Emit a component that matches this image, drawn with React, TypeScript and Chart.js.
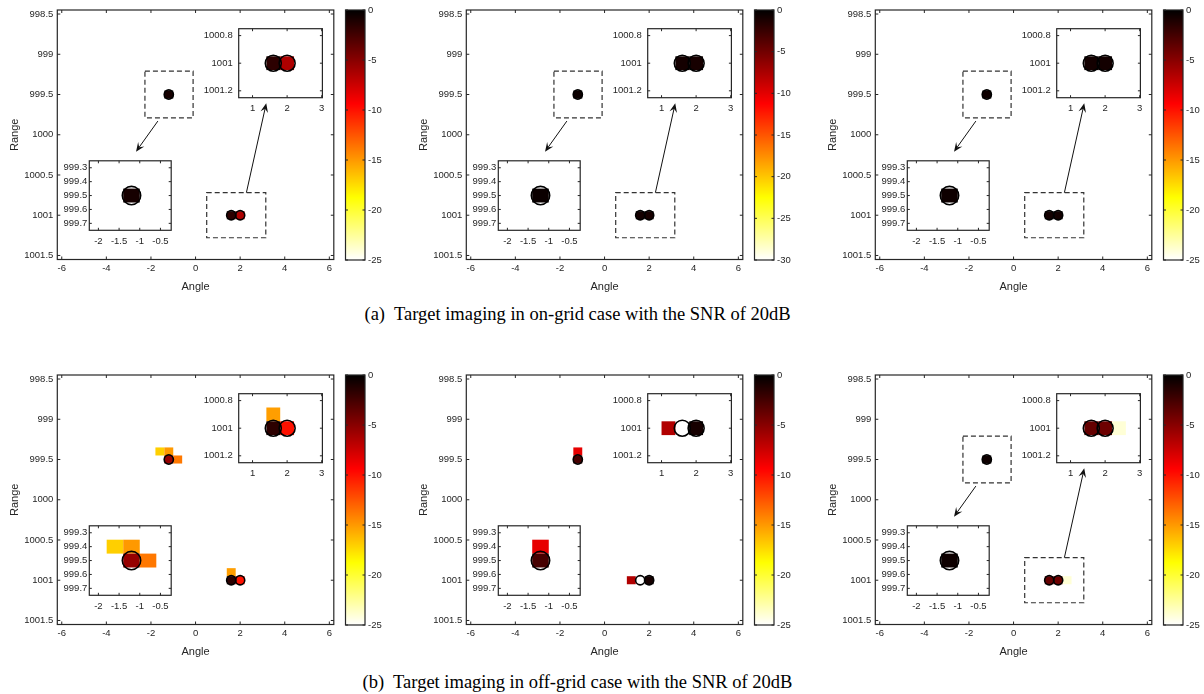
import React, { useEffect, useRef } from "react";
import { Chart, registerables } from "chart.js";
Chart.register(...registerables);

// ---------- data ----------
const targetAngle = [-1.2, 1.6, 2.0];
const targetRange = [999.5, 1001, 1001];

const a1Angle = [-1.2, 1.6, 2.0];
const a1Range = [999.5, 1001, 1001];
const a1Db = [-0.8, -1.6, -6.4];

const a2Angle = [-1.2, 1.6, 2.0];
const a2Range = [999.5, 1001, 1001];
const a2Db = [-0.5, -0.9, -1.0];

const a3Angle = [-1.2, 1.6, 2.0];
const a3Range = [999.5, 1001, 1001];
const a3Db = [-0.5, -0.7, -0.7];

const b1Angle = [-1.6, -1.2, -1.2, -0.8, 1.6, 1.6, 2.0];
const b1Range = [999.4, 999.4, 999.5, 999.5, 1000.9, 1001, 1001];
const b1Db = [-17, -15, -5.5, -13.8, -15.2, -1.6, -10];

const b2Angle = [-1.2, -1.2, 1.2, 2.0];
const b2Range = [999.4, 999.5, 1001, 1001];
const b2Db = [-8.5, -2.6, -6.5, -0.8];

const b3Angle = [-1.2, 1.6, 2.0, 2.4];
const b3Range = [999.5, 1001, 1001, 1001];
const b3Db = [-0.5, -3.7, -4.0, -24];

const cellAngleStep = 0.4;
const cellRangeStep = 0.1;

const colorbarMin = [-25, -30, -25, -25, -25, -25];
const colorbarTicks25 = [0, -5, -10, -15, -20, -25];
const colorbarTicks30 = [0, -5, -10, -15, -20, -25, -30];
const hasZoomBoxes = [true, true, true, false, false, true];

const mainAngleTicks = [-6, -4, -2, 0, 2, 4, 6];
const mainRangeTicks = [998.5, 999, 999.5, 1000, 1000.5, 1001, 1001.5];
const nearAngleTicks = [-2, -1.5, -1, -0.5];
const nearRangeTicks = [999.3, 999.4, 999.5, 999.6, 999.7];
const farAngleTicks = [1, 2, 3];
const farRangeTicks = [1000.8, 1001, 1001.2];

const captions = [
  "(a)  Target imaging in on-grid case with the SNR of 20dB",
  "(b)  Target imaging in off-grid case with the SNR of 20dB",
];

const panelAngles = [a1Angle, a2Angle, a3Angle, b1Angle, b2Angle, b3Angle];
const panelRanges = [a1Range, a2Range, a3Range, b1Range, b2Range, b3Range];
const panelDb = [a1Db, a2Db, a3Db, b1Db, b2Db, b3Db];

// zoom-box annotations in main-axes data units
const zoomBoxAngle = [[-2.27, -0.11], [0.5, 3.15]];
const zoomBoxRange = [[999.21, 999.79], [1000.72, 1001.28]];
const arrowFromAngle = [-1.69, 2.28];
const arrowFromRange = [999.83, 1000.72];
const arrowToAngle = [-2.67, 3.17];
const arrowToRange = [1000.21, 999.61];

// ---------- styling ----------
const AX = "#262626";
const FONT = '"Liberation Sans", Arial, Helvetica, sans-serif';
const TICK_FONT = { family: FONT, size: 9.5 };

function hot(t: number): string {
  t = Math.min(1, Math.max(0, t));
  const r = Math.min(1, t / 0.375);
  const g = Math.min(1, Math.max(0, (t - 0.375) / 0.375));
  const b = Math.min(1, Math.max(0, (t - 0.75) / 0.25));
  return `rgb(${Math.round(r * 255)},${Math.round(g * 255)},${Math.round(b * 255)})`;
}

function fmt(v: number): string {
  return String(parseFloat(Number(v).toFixed(4)));
}

function fixedTicks(list: number[]) {
  return (scale: any) => {
    scale.ticks = list.map((value) => ({ value }));
  };
}

type Rect = { x: number; y: number; w: number; h: number };
type Area = { l: number; t: number; r: number; b: number };

function cellsPlugin(angles: number[], ranges: number[], dbs: number[], cmin: number) {
  return {
    id: "cells",
    beforeDatasetsDraw(chart: any) {
      const { ctx, chartArea: a, scales } = chart;
      const xs = scales.x, ys = scales.y;
      ctx.save();
      ctx.beginPath();
      ctx.rect(a.left, a.top, a.right - a.left, a.bottom - a.top);
      ctx.clip();
      angles.forEach((ang, i) => {
        const x0 = xs.getPixelForValue(ang - cellAngleStep / 2);
        const x1 = xs.getPixelForValue(ang + cellAngleStep / 2);
        const y0 = ys.getPixelForValue(ranges[i] - cellRangeStep / 2);
        const y1 = ys.getPixelForValue(ranges[i] + cellRangeStep / 2);
        ctx.fillStyle = hot(dbs[i] / cmin);
        ctx.fillRect(Math.min(x0, x1), Math.min(y0, y1), Math.abs(x1 - x0), Math.abs(y1 - y0));
      });
      ctx.restore();
    },
  };
}

const whitePlugin = {
  id: "white",
  beforeDraw(chart: any) {
    const { ctx, chartArea: a } = chart;
    ctx.save();
    ctx.fillStyle = "#fff";
    ctx.fillRect(a.left, a.top, a.right - a.left, a.bottom - a.top);
    ctx.restore();
  },
};

function framePlugin(tickLen: number, useX: boolean) {
  return {
    id: "frame",
    afterDatasetsDraw(chart: any) {
      const { ctx, chartArea: a, scales } = chart;
      ctx.save();
      ctx.strokeStyle = AX;
      ctx.lineWidth = 1;
      ctx.beginPath();
      if (useX) {
        for (const t of scales.x.ticks) {
          const px = scales.x.getPixelForValue(t.value);
          ctx.moveTo(px, a.bottom);
          ctx.lineTo(px, a.bottom - tickLen);
          ctx.moveTo(px, a.top);
          ctx.lineTo(px, a.top + tickLen);
        }
      }
      for (const t of scales.y.ticks) {
        const py = scales.y.getPixelForValue(t.value);
        ctx.moveTo(a.left, py);
        ctx.lineTo(a.left + tickLen, py);
        ctx.moveTo(a.right, py);
        ctx.lineTo(a.right - tickLen, py);
      }
      ctx.stroke();
      ctx.lineWidth = 1.2;
      ctx.strokeRect(a.left, a.top, a.right - a.left, a.bottom - a.top);
      ctx.restore();
    },
  };
}

function drawArrow(ctx: CanvasRenderingContext2D, x0: number, y0: number, x1: number, y1: number) {
  const ang = Math.atan2(y1 - y0, x1 - x0);
  const L = 9, W = 3.8;
  const c = Math.cos(ang), s = Math.sin(ang);
  ctx.beginPath();
  ctx.moveTo(x0, y0);
  ctx.lineTo(x1 - c * L * 0.6, y1 - s * L * 0.6);
  ctx.stroke();
  const bx = x1 - c * L, by = y1 - s * L;
  const nx = -s, ny = c;
  ctx.beginPath();
  ctx.moveTo(x1, y1);
  ctx.lineTo(bx + nx * W, by + ny * W);
  ctx.lineTo(x1 - c * L * 0.6, y1 - s * L * 0.6);
  ctx.lineTo(bx - nx * W, by - ny * W);
  ctx.closePath();
  ctx.fill();
}

const zoomPlugin = {
  id: "zoomboxes",
  afterDatasetsDraw(chart: any) {
    const { ctx, scales } = chart;
    const xs = scales.x, ys = scales.y;
    ctx.save();
    ctx.strokeStyle = "#333";
    ctx.fillStyle = "#111";
    ctx.lineWidth = 1.2;
    ctx.setLineDash([5, 3]);
    zoomBoxAngle.forEach((ab, i) => {
      const x0 = xs.getPixelForValue(ab[0]), x1 = xs.getPixelForValue(ab[1]);
      const y0 = ys.getPixelForValue(zoomBoxRange[i][0]), y1 = ys.getPixelForValue(zoomBoxRange[i][1]);
      ctx.strokeRect(Math.min(x0, x1), Math.min(y0, y1), Math.abs(x1 - x0), Math.abs(y1 - y0));
    });
    ctx.setLineDash([]);
    ctx.strokeStyle = "#111";
    ctx.lineWidth = 1;
    arrowFromAngle.forEach((fa, i) => {
      drawArrow(
        ctx,
        xs.getPixelForValue(fa),
        ys.getPixelForValue(arrowFromRange[i]),
        xs.getPixelForValue(arrowToAngle[i]),
        ys.getPixelForValue(arrowToRange[i])
      );
    });
    ctx.restore();
  },
};

function baseOptions(rect: Rect, area: Area) {
  return {
    animation: false,
    responsive: false,
    events: [],
    layout: {
      padding: { left: 0, top: area.t - rect.y, right: rect.x + rect.w - area.r, bottom: 0 },
    },
    plugins: { legend: { display: false }, tooltip: { enabled: false } },
  };
}

function axisCommon(ticks: number[], padding: number) {
  return {
    type: "linear",
    afterBuildTicks: fixedTicks(ticks),
    grid: { display: false, drawTicks: false },
    border: { display: false },
    ticks: {
      autoSkip: false,
      maxRotation: 0,
      padding,
      color: AX,
      font: TICK_FONT,
      callback: (v: any) => fmt(Number(v)),
    },
  };
}

function makeXYChart(
  canvas: HTMLCanvasElement,
  rect: Rect,
  area: Area,
  xr: number[],
  yr: number[],
  xTicks: number[],
  yTicks: number[],
  radius: number,
  idx: number,
  isMain: boolean,
  yPad: number,
  xPad: number
) {
  const pts = targetAngle
    .map((x, i) => ({ x, y: targetRange[i] }))
    .filter((p) => p.x >= xr[0] && p.x <= xr[1] && p.y >= yr[0] && p.y <= yr[1]);
  const plugins: any[] = [];
  if (!isMain) plugins.push(whitePlugin);
  plugins.push(cellsPlugin(panelAngles[idx], panelRanges[idx], panelDb[idx], colorbarMin[idx]));
  plugins.push(framePlugin(isMain ? 3 : 2.5, true));
  if (isMain && hasZoomBoxes[idx]) plugins.push(zoomPlugin);
  const xAxis: any = {
    ...axisCommon(xTicks, xPad),
    min: xr[0],
    max: xr[1],
    afterFit: (s: any) => {
      s.height = rect.y + rect.h - area.b;
    },
  };
  const yAxis: any = {
    ...axisCommon(yTicks, yPad),
    min: yr[0],
    max: yr[1],
    reverse: true,
    afterFit: (s: any) => {
      s.width = area.l - rect.x;
    },
  };
  if (isMain) {
    xAxis.title = { display: true, text: "Angle", color: AX, font: { family: FONT, size: 11 }, padding: { top: 0, bottom: 6.4 } };
    yAxis.title = { display: true, text: "Range", color: AX, font: { family: FONT, size: 11 }, padding: { top: 8.4, bottom: 0 } };
  }
  return new Chart(canvas, {
    type: "scatter",
    data: {
      datasets: [
        {
          data: pts,
          pointRadius: radius,
          pointHoverRadius: radius,
          pointBorderWidth: 1.6,
          pointBorderColor: "#000",
          pointBackgroundColor: "rgba(0,0,0,0)",
        },
      ],
    },
    options: { ...(baseOptions(rect, area) as any), scales: { x: xAxis, y: yAxis } },
    plugins,
  } as any);
}

function makeColorbar(canvas: HTMLCanvasElement, rect: Rect, area: Area, idx: number) {
  const cmin = colorbarMin[idx];
  const ticks = cmin === -30 ? colorbarTicks30 : colorbarTicks25;
  const gradientPlugin = {
    id: "gradient",
    beforeDatasetsDraw(chart: any) {
      const { ctx, chartArea: a, scales } = chart;
      const ys = scales.y;
      ctx.save();
      for (let py = Math.floor(a.top); py < Math.ceil(a.bottom); py++) {
        const v = ys.getValueForPixel(py + 0.5);
        ctx.fillStyle = hot(v / cmin);
        ctx.fillRect(a.left, Math.max(py, a.top), a.right - a.left, 1);
      }
      ctx.restore();
    },
  };
  return new Chart(canvas, {
    type: "scatter",
    data: { datasets: [] },
    options: {
      animation: false,
      responsive: false,
      events: [],
      layout: { padding: { left: area.l - rect.x, top: area.t - rect.y, right: 0, bottom: rect.y + rect.h - area.b } },
      plugins: { legend: { display: false }, tooltip: { enabled: false } },
      scales: {
        x: { type: "linear", display: false, min: 0, max: 1 },
        y: {
          ...axisCommon(ticks, 3),
          position: "right",
          min: cmin,
          max: 0,
          afterFit: (s: any) => {
            s.width = rect.x + rect.w - area.r;
          },
        },
      },
    } as any,
    plugins: [gradientPlugin, framePlugin(2.5, false)],
  } as any);
}

// geometry inside one panel (panel-local pixels)
const MAIN_RECT: Rect = { x: 0, y: 0, w: 340, h: 300 };
const MAIN_AREA: Area = { l: 57.3, t: 10, r: 336, b: 259.5 };
const CBAR_RECT: Rect = { x: 340, y: 0, w: 46, h: 300 };
const CBAR_AREA: Area = { l: 345.5, t: 10, r: 365, b: 260 };
const FAR_RECT: Rect = { x: 198, y: 17, w: 134, h: 97 };
const FAR_AREA: Area = { l: 238.7, t: 22.7, r: 327.3, b: 97.7 };
const NEAR_RECT: Rect = { x: 49, y: 150, w: 133, h: 96 };
const NEAR_AREA: Area = { l: 89.3, t: 155, r: 178.3, b: 230.3 };

function Panel({ idx }: { idx: number }) {
  const mainRef = useRef<HTMLCanvasElement>(null);
  const cbarRef = useRef<HTMLCanvasElement>(null);
  const farRef = useRef<HTMLCanvasElement>(null);
  const nearRef = useRef<HTMLCanvasElement>(null);
  useEffect(() => {
    const charts: Chart[] = [];
    charts.push(
      makeXYChart(mainRef.current!, MAIN_RECT, MAIN_AREA, [-6.2, 6.2], [998.45, 1001.55], mainAngleTicks, mainRangeTicks, 4.6, idx, true, 4, 3)
    );
    charts.push(makeColorbar(cbarRef.current!, CBAR_RECT, CBAR_AREA, idx));
    charts.push(
      makeXYChart(farRef.current!, FAR_RECT, FAR_AREA, [0.6, 3.02], [1000.75, 1001.25], farAngleTicks, farRangeTicks, 8, idx, false, 6, 5)
    );
    charts.push(
      makeXYChart(nearRef.current!, NEAR_RECT, NEAR_AREA, [-2.22, -0.24], [999.25, 999.75], nearAngleTicks, nearRangeTicks, 9.2, idx, false, 2, 5)
    );
    return () => charts.forEach((c) => c.destroy());
  }, [idx]);
  const ox = (idx % 3) * 409;
  const oy = Math.floor(idx / 3) * 365;
  const cv = (r: Rect) => ({ position: "absolute" as const, left: ox + r.x, top: oy + r.y, width: r.w, height: r.h });
  return (
    <>
      <canvas ref={mainRef} width={MAIN_RECT.w} height={MAIN_RECT.h} style={cv(MAIN_RECT)} />
      <canvas ref={cbarRef} width={CBAR_RECT.w} height={CBAR_RECT.h} style={cv(CBAR_RECT)} />
      <canvas ref={farRef} width={FAR_RECT.w} height={FAR_RECT.h} style={cv(FAR_RECT)} />
      <canvas ref={nearRef} width={NEAR_RECT.w} height={NEAR_RECT.h} style={cv(NEAR_RECT)} />
    </>
  );
}

export default function App() {
  return (
    <div
      style={{
        position: "absolute",
        left: 0,
        top: 0,
        width: 1204,
        height: 694,
        overflow: "hidden",
        background: "#fff",
      }}
    >
      {[0, 1, 2, 3, 4, 5].map((i) => (
        <Panel key={i} idx={i} />
      ))}
      {captions.map((c, i) => (
        <div
          key={c}
          style={{
            position: "absolute",
            left: 577.5,
            top: i === 0 ? 303 : 671,
            transform: "translateX(-50%)",
            whiteSpace: "pre",
            fontFamily: '"Liberation Serif", "Times New Roman", serif',
            fontSize: 18.5,
            lineHeight: "22px",
            color: "#000",
          }}
        >
          {c}
        </div>
      ))}
    </div>
  );
}
